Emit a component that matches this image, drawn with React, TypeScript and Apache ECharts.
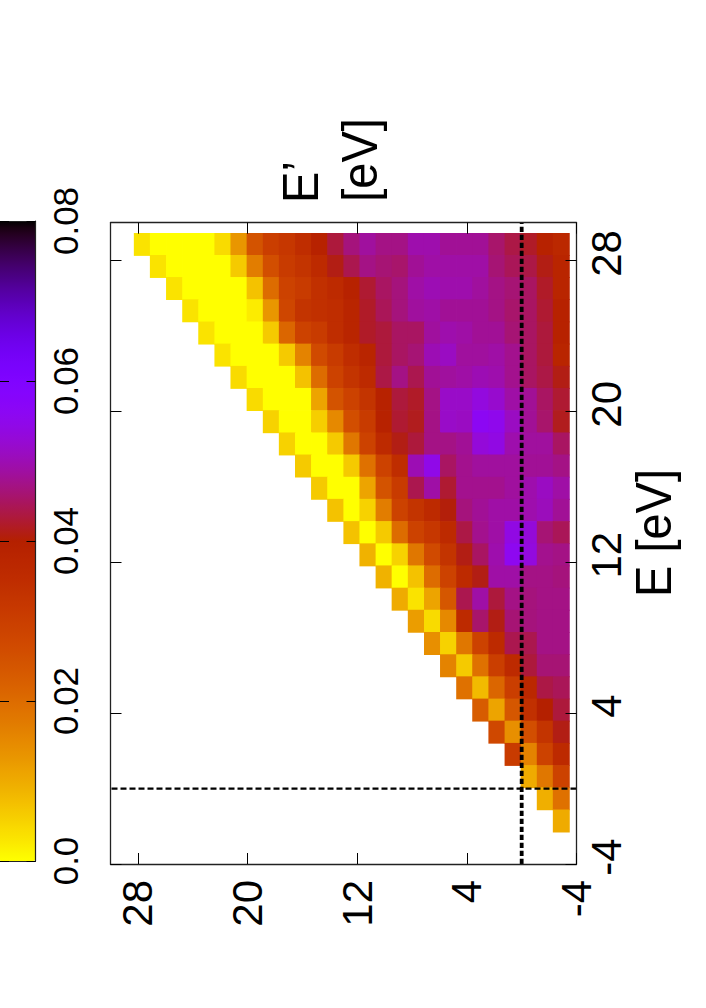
import React, { useEffect, useRef } from "react";
import * as echarts from "echarts";

const FONT = "Liberation Sans";

// Energy grid (eV) of the map cells.
const gridEnergies = [
  -2.89, -1.72, -0.54, 0.63, 1.81, 2.99, 4.16, 5.34, 6.51, 7.69, 8.87, 10.04, 11.22, 12.39,
  13.57, 14.75, 15.92, 17.1, 18.27, 19.45, 20.63, 21.8, 22.98, 24.15, 25.33, 26.51, 27.68, 28.85,
];
const cellStep = 1.176;

// Map values in units of 0.001, listed from the top row (highest E) downwards.
// In each row the first value is the cell of the highest E'.
const mapRows = [
  [3, 0, 0, 0, 0, 4, 13, 25, 30, 32, 35, 39, 43, 46.5, 48.5, 47, 47, 49.5, 49.5, 48, 48, 48, 45.5, 43.5, 42, 39, 37],
  [3, 0, 0, 0, 0, 6, 17, 26, 31, 33, 36, 41, 44, 47, 46, 45.5, 48, 49, 49, 49, 49, 46, 44.5, 43.5, 41, 38],
  [3, 0, 0, 0, 0, 7, 20, 29, 31, 34, 36, 39, 42.5, 45, 46.5, 49, 50, 49.5, 49.5, 48.5, 47, 46, 45, 42, 38],
  [3, 0, 0, 0, 2, 13, 28, 33, 34, 35, 38, 42, 44.5, 46.5, 48.5, 49, 48, 48, 48, 47, 45.5, 45, 42.5, 39],
  [3, 0, 0, 0, 6, 21, 29, 31, 35, 38, 42, 43, 45, 45, 48.5, 49.5, 49, 48, 48, 46, 45, 43, 39],
  [3, 0, 0, 0, 6, 16, 27, 31, 35, 38, 43, 45, 46, 50, 51, 48.5, 48.5, 49, 47.5, 45, 43, 38],
  [4, 0, 0, 0, 7, 20, 29, 33, 36, 43.5, 47, 44, 48, 48.5, 49, 50, 49.5, 47.5, 45, 43.5, 41],
  [4, 0, 0, 0, 11, 25, 29, 33, 39, 43, 42, 47, 51.5, 51.5, 53.5, 52, 49, 48, 45, 42.5],
  [5, 0, 0, 5.5, 15, 26, 31, 39, 42.5, 41.5, 47, 51.5, 51, 56, 55, 51, 48, 45.5, 41.5],
  [5, 0, 0, 6, 18, 29, 36, 41, 43, 47, 47, 48, 53, 54, 49.5, 48.5, 48.5, 45],
  [6, 0, 0, 6, 19, 29, 35, 50, 54.5, 45, 47.5, 48.5, 48.5, 48.5, 48, 48, 47],
  [6, 0, 0, 11, 25, 31, 44, 49, 42.5, 47.5, 47.5, 47.5, 48.5, 49.5, 51, 49],
  [7, 0, 5, 17, 29, 33, 36, 40.5, 46.5, 48, 49, 49, 49.5, 50.5, 48],
  [7, 0, 6, 20, 29, 32, 36, 43.5, 47.5, 49, 54, 53, 46, 44.5],
  [9, 0, 5, 18, 27, 33, 41, 45, 49.5, 55.5, 53.5, 47.5, 47],
  [9, 0, 7, 20, 29, 36, 41, 49, 49, 47, 47, 46.5],
  [10, 3, 11, 24, 44, 49, 43, 47, 46.5, 47, 47],
  [12, 4, 15, 36, 45.5, 41, 46, 46.5, 47, 47],
  [14, 5, 18, 29, 36, 44, 44, 47, 47],
  [16, 6, 19, 30, 36, 43, 46, 46],
  [19, 8, 21, 30, 37, 43.5, 44.5],
  [23, 11, 24, 34, 40, 43],
  [27.5, 14, 26, 33, 41],
  [31, 16, 29, 36],
  [10, 18, 29],
  [9.5, 19],
  [10],
];

const energyTicks = [-4, 4, 12, 20, 28];
const colorbarTicks = [0, 0.02, 0.04, 0.06, 0.08];
const colorbarLabels = ["0.0", "0.02", "0.04", "0.06", "0.08"];
const zeroLineV = [[0, -4], [0, 30]];
const zeroLineH = [[-4, 0], [30, 0]];

// gnuplot's default palette (rgbformulae 7,5,15), negated.
const hex = (t: number) =>
  Math.round(Math.max(0, Math.min(1, t)) * 255).toString(16).padStart(2, "0");
const paletteStops: string[] = [];
for (let i = 0; i <= 80; i++) {
  const g = 1 - i / 80;
  paletteStops.push(
    "#" + hex(Math.sqrt(g)) + hex(g * g * g) + hex(Math.sin(2 * Math.PI * g)),
  );
}

const cells: number[][] = [];
mapRows.forEach((row, r) => {
  row.forEach((v, i) => {
    cells.push([gridEnergies[26 - r - i], gridEnergies[27 - r], v / 1000]);
  });
});

const tickStyle = { color: "#000", width: 1 };
const axisLabelStyle = { color: "#000", fontFamily: FONT, fontSize: 42 };
const barLabelStyle = { color: "#000", fontFamily: FONT, fontSize: 35 };
const titleStyle = { fontFamily: FONT, fontSize: 47, fill: "#000", textAlign: "center", textVerticalAlign: "middle" };

export default function App() {
  const ref = useRef<HTMLDivElement>(null);
  useEffect(() => {
    document.body.style.margin = "0";
    const chart = echarts.init(ref.current!, undefined, { renderer: "svg" });
    const axisBase = {
      type: "value" as const,
      min: -4,
      max: 30,
      z: 6,
      splitLine: { show: false },
      axisLine: { show: true, onZero: false, lineStyle: { color: "#222", width: 1.3 } },
      axisTick: {
        show: true,
        inside: true,
        length: 11,
        lineStyle: tickStyle,
        customValues: energyTicks,
      },
    };
    const hiddenLabels = { show: false };
    const shownLabels = {
      show: true,
      rotate: 90,
      customValues: energyTicks,
      ...axisLabelStyle,
    };
    const barLine = { show: true, onZero: false, lineStyle: { color: "#222", width: 1.2 } };
    chart.setOption({
      animation: false,
      backgroundColor: "#fff",
      grid: [
        { left: 110.5, top: 222.7, width: 466, height: 641.3, show: false },
        { left: -1, top: 221, width: 36.5, height: 640, show: false },
      ],
      xAxis: [
        { ...axisBase, gridIndex: 0, inverse: true, position: "bottom", axisLabel: { ...shownLabels, margin: 16 } },
        { ...axisBase, gridIndex: 0, inverse: true, position: "top", axisLabel: hiddenLabels },
        {
          type: "value",
          gridIndex: 1,
          min: 0,
          max: 1,
          position: "top",
          z: 10,
          splitLine: { show: false },
          axisLabel: { show: false },
          axisTick: { show: false },
          axisLine: barLine,
        },
        {
          type: "value",
          gridIndex: 1,
          min: 0,
          max: 1,
          position: "bottom",
          z: 10,
          splitLine: { show: false },
          axisLabel: { show: false },
          axisTick: { show: false },
          axisLine: barLine,
        },
      ],
      yAxis: [
        { ...axisBase, gridIndex: 0, position: "right", axisLabel: { ...shownLabels, margin: 9, padding: [0, 0, 0, 14] } },
        { ...axisBase, gridIndex: 0, position: "left", axisLabel: hiddenLabels },
        {
          type: "value",
          gridIndex: 1,
          min: 0,
          max: 0.08,
          interval: 0.02,
          position: "right",
          z: 10,
          splitLine: { show: false },
          axisLine: barLine,
          axisTick: { show: true, inside: true, length: 9, lineStyle: tickStyle },
          axisLabel: {
            show: true,
            rotate: 90,
            margin: 12,
            ...barLabelStyle,
            formatter: (v: number) => colorbarLabels[colorbarTicks.findIndex((t) => Math.abs(t - v) < 1e-6)] ?? "",
          },
        },
        {
          type: "value",
          gridIndex: 1,
          min: 0,
          max: 0.08,
          interval: 0.02,
          position: "left",
          z: 10,
          splitLine: { show: false },
          axisLine: { show: false, onZero: false },
          axisTick: { show: true, inside: true, length: 9, lineStyle: tickStyle },
          axisLabel: { show: false },
        },
      ],
      visualMap: {
        type: "continuous",
        seriesIndex: 0,
        dimension: 2,
        min: 0,
        max: 0.08,
        left: -1,
        top: 221,
        padding: 0,
        itemWidth: 36.5,
        itemHeight: 640,
        calculable: false,
        hoverLink: false,
        realtime: false,
        borderWidth: 0,
        text: ["", ""],
        showLabel: false,
        inRange: { color: paletteStops },
      },
      series: [
        {
          type: "custom",
          xAxisIndex: 0,
          yAxisIndex: 0,
          data: cells,
          encode: { x: 0, y: 1 },
          clip: true,
          silent: true,
          renderItem: (_p: any, api: any) => {
            const c = api.coord([api.value(0), api.value(1)]);
            const s = api.size([cellStep, cellStep]);
            return {
              type: "rect",
              shape: { x: c[0] - s[0] / 2 - 0.4, y: c[1] - s[1] / 2 - 0.4, width: s[0] + 0.8, height: s[1] + 0.8 },
              style: { fill: api.visual("color") },
            };
          },
        },
        {
          type: "line",
          xAxisIndex: 0,
          yAxisIndex: 0,
          data: zeroLineV,
          symbol: "none",
          silent: true,
          z: 5,
          lineStyle: { color: "#000", width: 3.8, type: [5.2, 2.8] },
        },
        {
          type: "line",
          xAxisIndex: 0,
          yAxisIndex: 0,
          data: zeroLineH,
          symbol: "none",
          silent: true,
          z: 5,
          lineStyle: { color: "#000", width: 2.2, type: [6, 3] },
        },
      ],
      graphic: [
        {
          type: "text",
          x: 653,
          y: 533,
          rotation: Math.PI / 2,
          scaleY: 1.08,
          style: { text: "E [eV]", ...titleStyle },
        },
        {
          type: "text",
          x: 300,
          y: 182,
          rotation: Math.PI / 2,
          scaleY: 1.08,
          style: { text: "E’", ...titleStyle },
        },
        {
          type: "text",
          x: 359,
          y: 160,
          rotation: Math.PI / 2,
          scaleY: 1.08,
          style: { text: "[eV]", ...titleStyle },
        },
      ],
    });
    return () => chart.dispose();
  }, []);
  return <div ref={ref} style={{ width: 706, height: 1008 }} />;
}
